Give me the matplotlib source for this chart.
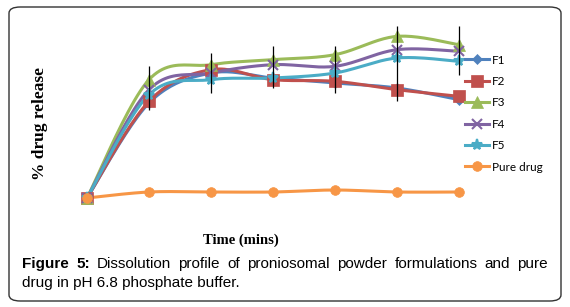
import numpy as np
import matplotlib
matplotlib.use("Agg")
import matplotlib.pyplot as plt
from matplotlib.patches import FancyBboxPatch
from matplotlib.lines import Line2D

# ---- data (arbitrary % scale) ----
time_idx = [0, 1, 2, 3, 4, 5, 6]
F1 = [0, 57, 75, 72, 69, 66, 59]
F2 = [0, 58, 77, 71, 70, 65, 61]
F3 = [0, 71, 80, 83, 86, 97, 92]
F4 = [0, 65, 75, 80, 79, 89, 88]
F5 = [0, 62, 71, 72, 75, 84, 82]
pure = [0, 3.6, 3.6, 3.6, 4.8, 3.6, 3.6]
err_top = [np.nan, 79, 87, 91, 91, 103, 103]
err_bottom = [np.nan, 53, 63, 66, 63, 58, 74]

series_names = ["F1", "F2", "F3", "F4", "F5", "Pure drug"]
series_vals = [F1, F2, F3, F4, F5, pure]
colors = ["#4F81BD", "#C0504D", "#9BBB59", "#8064A2", "#4BACC6", "#F79646"]
markers = ["D", "s", "^", "x", "*", "o"]
msizes = [5, 8, 8, 7, 8, 7]


def smooth(x, y, n=24, t=0.5):
    x = np.asarray(x, float)
    y = np.asarray(y, float)
    xs, ys = [x[0]], [y[0]]
    for i in range(len(x) - 1):
        p0 = np.array([x[i - 1] if i > 0 else x[i], y[i - 1] if i > 0 else y[i]])
        p1 = np.array([x[i], y[i]])
        p2 = np.array([x[i + 1], y[i + 1]])
        p3 = np.array([x[i + 2] if i + 2 < len(x) else x[i + 1],
                       y[i + 2] if i + 2 < len(x) else y[i + 1]])
        c1 = p1 + (p2 - p0) * t / 3
        c2 = p2 - (p3 - p1) * t / 3
        s = np.linspace(0, 1, n)[1:]
        pts = ((1 - s) ** 3)[:, None] * p1 + (3 * (1 - s) ** 2 * s)[:, None] * c1 \
            + (3 * (1 - s) * s ** 2)[:, None] * c2 + (s ** 3)[:, None] * p2
        xs.extend(pts[:, 0])
        ys.extend(pts[:, 1])
    return np.array(xs), np.array(ys)


W, H = 570, 307
fig = plt.figure(figsize=(W / 100, H / 100), dpi=100)

# rounded border
border = FancyBboxPatch((9 / W, 6 / H), (561 - 9) / W, (300 - 6) / H,
                        boxstyle="round,pad=0,rounding_size=0.02",
                        transform=fig.transFigure, fill=False,
                        edgecolor="#333333", linewidth=1.0)
fig.patches.append(border)

# axes: x=0 -> px 87, x=6 -> px 459 ; y=0 -> px 198 (0.6 units/px)
left_px = 87 - 0.5 * 62
ax = fig.add_axes([left_px / W, (H - 225) / H, 434 / W, 210 / H])
ax.set_xlim(-0.5, 6.5)
ax.set_ylim(-16.2, 109.8)
ax.axis("off")

ax.vlines(time_idx, err_bottom, err_top, color="black", linewidth=0.9, zorder=5)

handles = []
for name, vals, c, m, ms in zip(series_names, series_vals, colors, markers, msizes):
    sx, sy = smooth(time_idx, vals)
    ax.plot(sx, sy, color=c, linewidth=2.2, zorder=3, solid_capstyle="round")
    mew = 1.5 if m in ("x", "*") else 0.5
    ax.plot(time_idx, vals, linestyle="none", marker=m, markersize=ms,
            color=c, markeredgecolor=c, markeredgewidth=mew, zorder=4)
    handles.append(Line2D([0], [0], color=c, linewidth=2.2, marker=m,
                          markersize=ms, markeredgewidth=mew, label=name))

fig.legend(handles=handles, loc="upper left", bbox_to_anchor=(454 / W, 1 - 44 / H),
           frameon=False, handlelength=2.1, handletextpad=0.2,
           labelspacing=0.88, prop={"family": "Lato", "size": 8.5})

fig.text(40 / W, 1 - 124 / H, "% drug release", rotation=90, ha="center",
         va="center", fontsize=12.5, fontweight="bold", family="Liberation Serif")
fig.text(241 / W, 1 - 240 / H, "Time (mins)", ha="center", va="center",
         fontsize=10.5, fontweight="bold", family="Liberation Serif")

# justified caption line 1
fig.canvas.draw()
renderer = fig.canvas.get_renderer()
words = [("Figure", True), ("5:", True), ("Dissolution", False), ("profile", False),
         ("of", False), ("proniosomal", False), ("powder", False),
         ("formulations", False), ("and", False), ("pure", False)]
x_start, x_end, y1 = 22, 548, 264
texts = []
total = 0
for w, b in words:
    t = fig.text(0, 1 - y1 / H, w, fontsize=11, family="Liberation Sans",
                 fontweight="bold" if b else "normal", va="center", ha="left")
    bb = t.get_window_extent(renderer)
    texts.append((t, bb.width))
    total += bb.width
gap = (x_end - x_start - total) / (len(words) - 1)
x = x_start
for t, wd in texts:
    t.set_x(x / W)
    x += wd + gap
fig.text(x_start / W, 1 - 283 / H, "drug in pH 6.8 phosphate buffer.", fontsize=11,
         family="Liberation Sans", va="center", ha="left")

fig.savefig("out.png", dpi=100)
